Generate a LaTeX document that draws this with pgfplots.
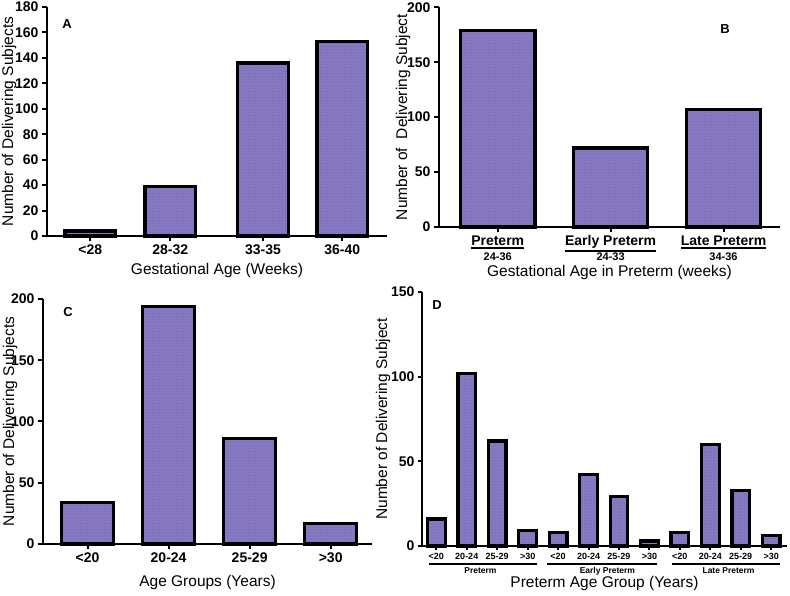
\documentclass[border=0pt]{standalone}
\usepackage{fontspec}
\setmainfont{Liberation Sans}
\usepackage{pgfplots}
\pgfplotsset{compat=1.18}
\usetikzlibrary{patterns}
\definecolor{barfill}{RGB}{136,122,194}
\definecolor{dotcol}{RGB}{95,82,150}
\newcommand{\thickul}[1]{\vtop{\hbox{#1}\kern1.5pt\hrule height 1.8pt}}
\pgfplotsset{
  panel/.style={
    scale only axis, ybar, clip=false,
    axis lines=left,
    axis line style={-, line width=2.4pt, black},
    tick align=outside,
    major tick length=5pt,
    every tick/.style={black, line width=2pt},
    /pgf/number format/assume math mode=true,
    ymin=0,
    xtick=data,
    tick label style={font=\fontsize{14}{16}\selectfont\bfseries},
    label style={font=\fontsize{15.5}{18}\selectfont},
  },
  barsty/.style={fill=barfill, draw=black, line width=3.2pt,
    postaction={pattern=dots, pattern color=dotcol}},
}
\begin{document}
\begin{tikzpicture}
\useasboundingbox (0,0) rectangle (790pt,596pt);
% ---------- A ----------
\begin{axis}[panel, at={(47pt,360pt)}, anchor=south west,
  width=340pt, height=229pt,
  xmin=-0.54, xmax=3.71, ymax=180, ytick={0,20,...,180},
  bar width=0.63,
  xticklabels={<28,28-32,33-35,36-40},
  ylabel={Number of Delivering Subjects},
  ylabel style={at={(axis description cs:0,0.5)}, anchor=center, yshift=38pt},
  xlabel={Gestational Age (Weeks)},
  xlabel style={at={(axis description cs:0.5,0)}, anchor=center, yshift=-34pt},
]
\addplot[barsty] coordinates {(0,4) (1,39) (2.16,136) (3.15,153)};
\node[font=\fontsize{13}{15}\selectfont\bfseries] at (axis description cs:0.059,0.926) {A};
\end{axis}
% ---------- B ----------
\begin{axis}[panel, at={(439pt,369pt)}, anchor=south west,
  width=341pt, height=219.7pt,
  xmin=-0.52, xmax=2.5, ymax=200, ytick={0,50,...,200},
  bar width=0.66,
  xticklabels={{\thickul{Preterm}\\[-1pt]{\fontsize{11}{13}\selectfont 24-36}},
               {\thickul{Early Preterm}\\[-1pt]{\fontsize{11}{13}\selectfont 24-33}},
               {\thickul{Late Preterm}\\[-1pt]{\fontsize{11}{13}\selectfont 34-36}}},
  xticklabel style={align=center, font=\fontsize{14}{16}\selectfont\bfseries},
  ylabel={Number of~~Delivering Subject},
  ylabel style={at={(axis description cs:0,0.5)}, anchor=center, yshift=36pt},
  xlabel={Gestational Age in Preterm (weeks)},
  xlabel style={at={(axis description cs:0.5,0)}, anchor=center, yshift=-45pt},
]
\addplot[barsty] coordinates {(0,179) (1,72) (2,107)};
\node[font=\fontsize{13}{15}\selectfont\bfseries] at (axis description cs:0.839,0.90) {B};
\end{axis}
% ---------- C ----------
\begin{axis}[panel, at={(43pt,52pt)}, anchor=south west,
  width=329pt, height=245pt,
  xmin=-0.55, xmax=3.51, ymax=200, ytick={0,50,...,200},
  bar width=0.64,
  xticklabels={<20,20-24,25-29,>30},
  ylabel={Number of Delivering Subjects},
  ylabel style={at={(axis description cs:0,0.5)}, anchor=center, yshift=33pt},
  xlabel={Age Groups (Years)},
  xlabel style={at={(axis description cs:0.5,0)}, anchor=center, yshift=-38pt},
]
\addplot[barsty] coordinates {(0,34) (1,194) (2,86) (3,17)};
\node[font=\fontsize{13}{15}\selectfont\bfseries] at (axis description cs:0.076,0.947) {C};
\end{axis}
% ---------- D ----------
\begin{axis}[panel, at={(422pt,50pt)}, anchor=south west,
  width=365pt, height=254pt,
  xmin=-0.47, xmax=11.52, ymax=150, ytick={0,50,100,150},
  bar width=0.58,
  xticklabels={<20,20-24,25-29,>30,<20,20-24,25-29,>30,<20,20-24,25-29,>30},
  xticklabel style={font=\fontsize{9}{10}\selectfont\bfseries},
  major tick length=4pt,
  ylabel={Number of Delivering Subject},
  ylabel style={at={(axis description cs:0,0.5)}, anchor=center, yshift=39pt},
  xlabel={Preterm Age Group (Years)},
  xlabel style={at={(axis description cs:0.5,0)}, anchor=center, yshift=-37pt},
]
\addplot[barsty] coordinates {(0,16) (1,102) (2,62) (3,9) (4,8) (5,42) (6,29) (7,3) (8,8) (9,60) (10,33) (11,6)};
\draw[line width=1.5pt] ([yshift=-18pt]axis cs:-0.25,0) -- ([yshift=-18pt]axis cs:3.31,0);
\draw[line width=1.5pt] ([yshift=-18pt]axis cs:3.64,0) -- ([yshift=-18pt]axis cs:7.25,0);
\draw[line width=1.5pt] ([yshift=-18pt]axis cs:7.74,0) -- ([yshift=-18pt]axis cs:11.3,0);
\node[font=\fontsize{8.5}{10}\selectfont\bfseries] at ([yshift=-25pt]axis cs:1.45,0) {Preterm};
\node[font=\fontsize{8.5}{10}\selectfont\bfseries] at ([yshift=-25pt]axis cs:5.62,0) {Early Preterm};
\node[font=\fontsize{8.5}{10}\selectfont\bfseries] at ([yshift=-25pt]axis cs:9.6,0) {Late Preterm};
\node[font=\fontsize{13}{15}\selectfont\bfseries] at (axis description cs:0.041,0.949) {D};
\end{axis}
\end{tikzpicture}
\end{document}
